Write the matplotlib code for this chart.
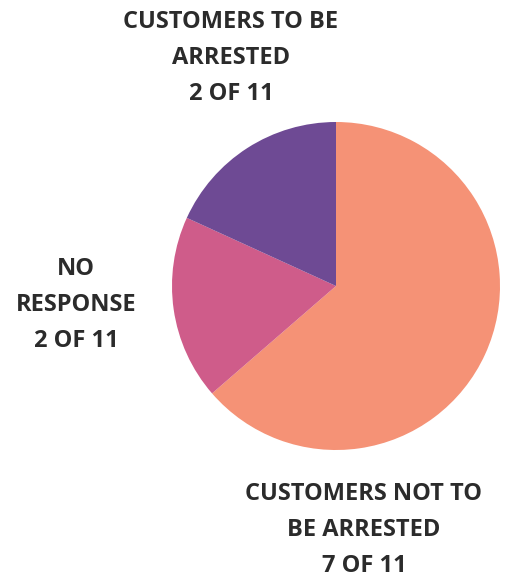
import matplotlib.pyplot as plt

labels = ['CUSTOMERS NOT TO\nBE ARRESTED\n7 OF 11',
          'NO\nRESPONSE\n2 OF 11',
          'CUSTOMERS TO BE\nARRESTED\n2 OF 11']
values = [7, 2, 2]
colors = ['#F59276', '#CF5C8A', '#6E4A94']

# label anchor points (pixel coords, centre of text block)
label_pos = [(364, 530), (76, 305), (231, 58)]

fig = plt.figure(figsize=(5.06, 5.78), dpi=100)
ax = fig.add_axes([0, 0, 1, 1])

# y axis runs downward, so start at -90 and go "counterclock" to get
# a clockwise pie starting at 12 o'clock on screen
ax.pie(values, colors=colors, startangle=-90, counterclock=True,
       center=(336, 286), radius=164, frame=True,
       wedgeprops={'linewidth': 0})
ax.set_xlim(0, 506)
ax.set_ylim(578, 0)
ax.set_aspect('equal')
ax.axis('off')

for lab, (x, y) in zip(labels, label_pos):
    ax.text(x, y, lab, ha='center', va='center', fontsize=17,
            fontweight='bold', family='Open Sans', color='#2b2b2b',
            linespacing=1.68)

fig.savefig('out.png', dpi=100)
